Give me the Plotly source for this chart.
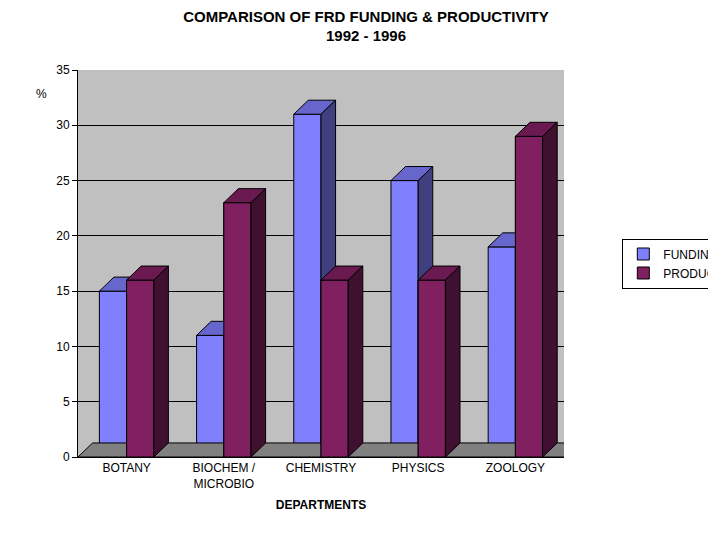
import plotly.graph_objects as go

departments = ['BOTANY', 'BIOCHEM /<br>MICROBIO', 'CHEMISTRY', 'PHYSICS', 'ZOOLOGY']
funding = [15, 11, 31, 25, 19]
productivity = [16, 23, 16, 16, 29]

front_colors = {'FUNDING': '#8080ff', 'PRODUCTIVITY': '#802060'}
top_colors = {'FUNDING': '#6666cc', 'PRODUCTIVITY': '#6a1a50'}
side_colors = {'FUNDING': '#404080', 'PRODUCTIVITY': '#401030'}

w = 0.28   # bar width in category units
dx = 0.15  # depth offset (x)
dy = 1.27  # depth offset (y)

fig = go.Figure()
fig.add_trace(go.Bar(x=list(range(5)), y=funding, name='FUNDING', offset=-w, width=w,
                     marker=dict(color=front_colors['FUNDING'], line=dict(color='black', width=1))))
fig.add_trace(go.Bar(x=list(range(5)), y=productivity, name='PRODUCTIVITY', offset=0, width=w,
                     marker=dict(color=front_colors['PRODUCTIVITY'], line=dict(color='black', width=1))))


def poly(pts, color):
    path = 'M ' + ' L '.join(f'{a},{b}' for a, b in pts) + ' Z'
    return dict(type='path', path=path, xref='x', yref='y', fillcolor=color,
                line=dict(color='black', width=1), layer='above')


shapes = []
# floor
shapes.append(poly([(-0.5, 0), (-0.5 + dx, dy), (4.5 + dx, dy), (4.5, 0)], '#808080'))
for i in range(5):
    for name, vals, x0 in (('FUNDING', funding, i - w), ('PRODUCTIVITY', productivity, i)):
        v = vals[i]
        x1 = x0 + w
        if name == 'PRODUCTIVITY':
            shapes.append(poly([(x0, 0), (x0, v), (x1, v), (x1, 0)], front_colors[name]))
        shapes.append(poly([(x0, v), (x0 + dx, v + dy), (x1 + dx, v + dy), (x1, v)], top_colors[name]))
        shapes.append(poly([(x1, 0), (x1 + dx, dy), (x1 + dx, v + dy), (x1, v)], side_colors[name]))

fig.update_layout(
    width=716, height=540,
    margin=dict(l=70, r=160, t=62, b=91, autoexpand=False),
    paper_bgcolor='white', plot_bgcolor='#c0c0c0',
    font=dict(family='Arial, Liberation Sans', size=12, color='black'),
    title=dict(text='<b>COMPARISON OF FRD FUNDING & PRODUCTIVITY<br>1992 - 1996</b>',
               x=0.5, xanchor='center', y=0.975, yanchor='top', font=dict(size=15)),
    shapes=shapes,
    showlegend=True,
    legend=dict(x=1.12, y=0.5, xanchor='left', yanchor='middle', bordercolor='black',
                borderwidth=1, bgcolor='white', font=dict(size=12), itemwidth=30,
                tracegroupgap=0),
    xaxis=dict(range=[-0.5, 4.5], tickmode='array', tickvals=list(range(5)), ticktext=departments,
               showline=True, linecolor='black', ticks='', showgrid=False,
               title=dict(text='<b>DEPARTMENTS</b>', font=dict(size=12), standoff=10)),
    yaxis=dict(range=[0, 35], dtick=5, showline=True, linecolor='black', ticks='outside',
               ticklen=5, tickcolor='black', gridcolor='black', gridwidth=1, zeroline=False),
    annotations=[dict(text='%', x=-0.09, y=0.96, xref='paper', yref='paper', showarrow=False,
                      font=dict(size=12))],
)

fig.write_html('out.html')
